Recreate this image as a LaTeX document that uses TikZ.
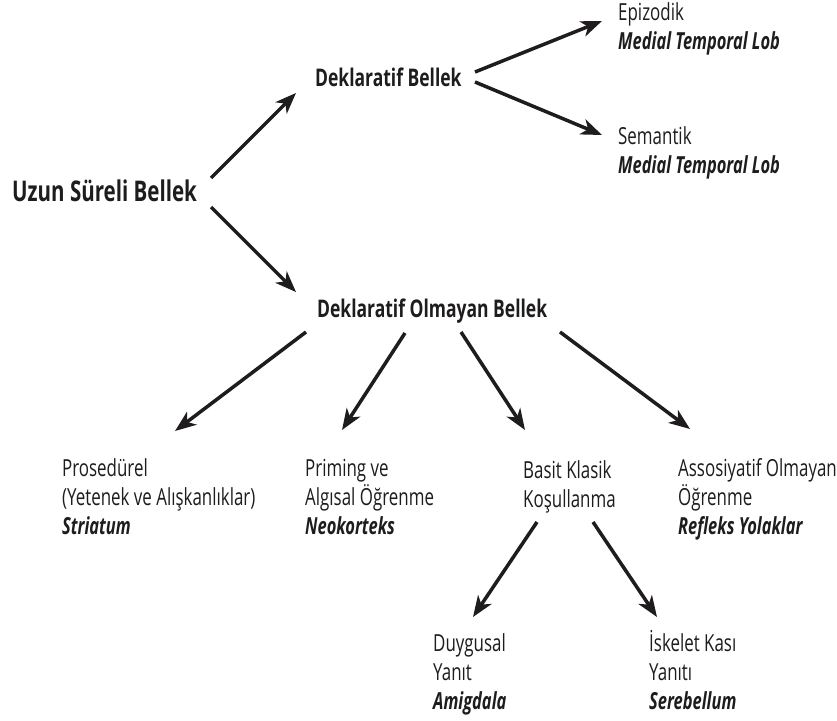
\documentclass[tikz,border=0pt]{standalone}
\usepackage{fontspec}
\setmainfont{Open Sans}[FakeStretch=0.72,BoldItalicFeatures={FakeStretch=0.70}]
\usetikzlibrary{arrows.meta}
\definecolor{ink}{HTML}{1E1C1D}
\begin{document}
\begin{tikzpicture}[x=1pt,y=-1pt,
  txt/.style={anchor=base west, inner sep=0pt, align=left, text=ink, font=\fontsize{23.5}{28.7}\selectfont},
  head/.style={anchor=base west, inner sep=0pt, text=ink, font=\fontsize{24.3}{29}\selectfont\bfseries},
  big/.style={anchor=base west, inner sep=0pt, text=ink, font=\fontsize{28.5}{32}\selectfont\bfseries},
  arr/.style={draw=ink, line width=3.5pt, -{Stealth[length=21pt,width=16pt,inset=6pt]}}]
\useasboundingbox[fill=white] (0,0) rectangle (837,720);

\node[big]  (uzun) at (12,201) {Uzun Süreli Bellek};
\node[head] (dekl) at (315,86) {Deklaratif Bellek};
\node[txt]  (epi)  at (618,49) {Epizodik\\\textbf{\textit{Medial Temporal Lob}}};
\node[txt]  (sem)  at (618,173) {Semantik\\\textbf{\textit{Medial Temporal Lob}}};
\node[head] (dob)  at (317,317) {Deklaratif Olmayan Bellek};
\node[txt]  (pro)  at (62,534) {Prosedürel\\(Yetenek ve Alışkanlıklar)\\\textbf{\textit{Striatum}}};
\node[txt]  (pri)  at (305,534) {Priming ve\\Algısal Öğrenme\\\textbf{\textit{Neokorteks}}};
\node[txt]  (bas)  at (523,507) {Basit Klasik\\Koşullanma};
\node[txt]  (ass)  at (678,534) {Assosiyatif Olmayan\\Öğrenme\\\textbf{\textit{Refleks Yolaklar}}};
\node[txt]  (duy)  at (433,709) {Duygusal\\Yanıt\\\textbf{\textit{Amigdala}}};
\node[txt]  (isk)  at (649,709) {İskelet Kası\\Yanıtı\\\textbf{\textit{Serebellum}}};

\draw[arr] ([shift={(199,-23)}]uzun.base west) -- ([shift={(-19,7)}]dekl.base west);
\draw[arr] ([shift={(199,6)}]uzun.base west) -- ([shift={(-21,-25)}]dob.base west);
\draw[arr] ([shift={(160,-14)}]dekl.base west) -- ([shift={(-16,-28)}]epi.base west);
\draw[arr] ([shift={(160,-4)}]dekl.base west) -- ([shift={(-16,-38)}]sem.base west);
\draw[arr] ([shift={(-11,15)}]dob.base west) -- ([shift={(113,-103)}]pro.base west);
\draw[arr] ([shift={(88,16)}]dob.base west) -- ([shift={(37,-104)}]pri.base west);
\draw[arr] ([shift={(144,15)}]dob.base west) -- ([shift={(2,-77)}]bas.base west);
\draw[arr] ([shift={(243,15)}]dob.base west) -- ([shift={(12,-105)}]ass.base west);
\draw[arr] ([shift={(14,15)}]bas.base west) -- ([shift={(40,-92)}]duy.base west);
\draw[arr] ([shift={(70,15)}]bas.base west) -- ([shift={(8,-92)}]isk.base west);
\end{tikzpicture}
\end{document}
